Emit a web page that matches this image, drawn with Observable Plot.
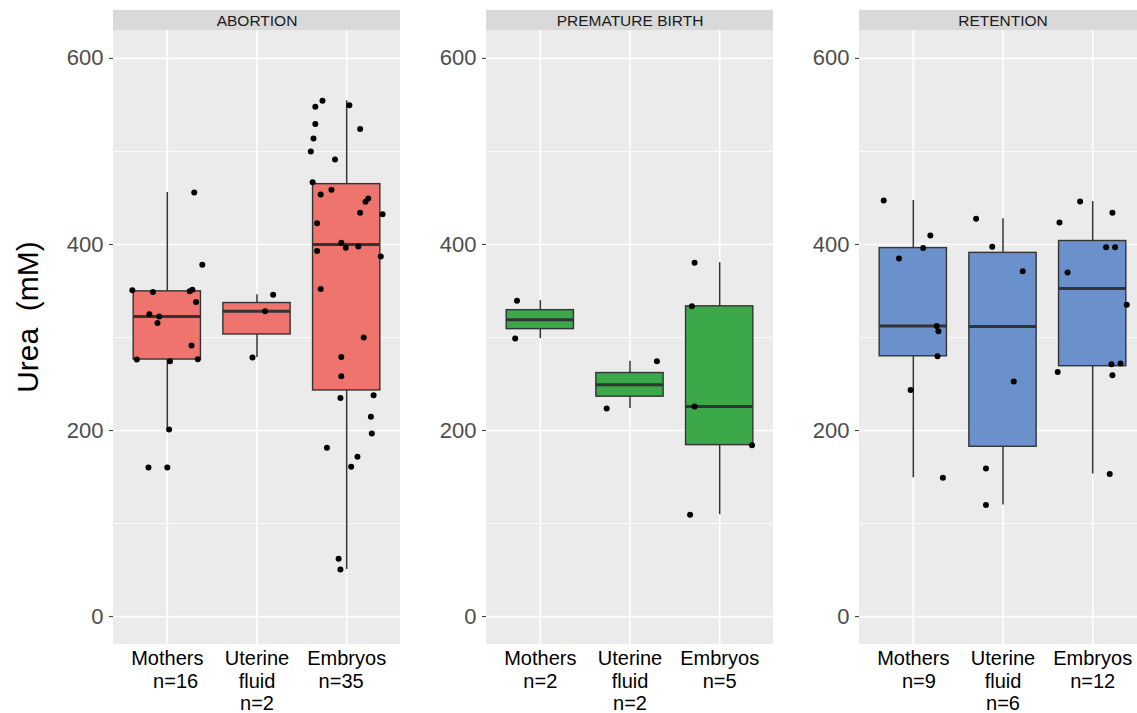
<!DOCTYPE html>
<html>
<head>
<meta charset="utf-8">
<script src="https://cdn.jsdelivr.net/npm/d3@7"></script>
<script src="https://cdn.jsdelivr.net/npm/@observablehq/plot@0.6"></script>
<style>
  html, body { margin: 0; padding: 0; background: #ffffff; }
  #wrap { position: relative; width: 1137px; height: 713px; overflow: hidden; }
  #wrap svg { max-width: none !important; font-family: "Liberation Sans", Arial, sans-serif; }
  #ytitle {
    position: absolute; left: 28px; top: 317px;
    transform: translate(-50%, -50%) rotate(-90deg);
    font-family: "Liberation Sans", Arial, sans-serif; font-size: 30px; color: #000;
    white-space: nowrap; line-height: 1;
  }
</style>
</head>
<body>
<div id="wrap"><div id="ytitle"></div></div>
<script>
// ---- categories and labels ----
const panels = ["ABORTION", "PREMATURE BIRTH", "RETENTION"];
const panelFills = ["#F0746E", "#3BA84A", "#6B91CD"];
const abortionLabels  = ["Mothers\n\u00a0\u00a0\u00a0n=16", "Uterine\nfluid\nn=2", "Embryos\nn=35\u00a0\u00a0"];
const prematureLabels = ["Mothers\nn=2", "Uterine\nfluid\nn=2", "Embryos\nn=5"];
const retentionLabels = ["Mothers\n\u00a0\u00a0n=9", "Uterine\nfluid\nn=6", "Embryos\nn=12"];
const yTicks = [0, 200, 400, 600];
const yMinor = [100, 300, 500];
const yTitle = "Urea\u00a0\u00a0(mM)";

// ---- values (mM); jitter in category units ----
const abortionMothers = [455.8, 378.2, 350.7, 348.9, 349.6, 351.4, 338.1, 324.9, 322.5, 315.6, 291.3, 276.3, 274.5, 276.6, 201.1, 160.3, 160.3];
const abortionMothersJitter = [0.30, 0.39, -0.39, -0.16, 0.25, 0.28, 0.32, -0.20, -0.09, -0.11, 0.27, -0.34, 0.03, 0.34, 0.02, -0.21, 0.00];
const abortionUterine = [346.0, 328.1, 278.4];
const abortionUterineJitter = [0.18, 0.09, -0.05];
const abortionEmbryos = [554.5, 548.1, 549.6, 529.6, 513.8, 524.2, 499.9, 491.3, 466.9, 453.7, 458.7, 449.4, 445.9, 434.0, 432.6, 422.9, 401.8, 392.9, 396.5, 397.9, 387.2, 352.1, 299.9, 279.1, 258.4, 235.1, 238.0, 214.7, 196.8, 181.4, 171.7, 161.0, 62.3, 50.5];
const abortionEmbryosJitter = [-0.27, -0.35, 0.03, -0.35, -0.37, 0.15, -0.40, -0.13, -0.38, -0.29, -0.17, 0.24, 0.21, 0.15, 0.40, -0.33, -0.06, -0.33, -0.01, 0.13, 0.38, -0.29, 0.19, -0.06, -0.06, -0.07, 0.30, 0.27, 0.28, -0.22, 0.12, 0.05, -0.09, -0.07];

const prematureMothers = [339.6, 298.8];
const prematureMothersJitter = [-0.26, -0.28];
const prematureUterine = [274.5, 223.7];
const prematureUterineJitter = [0.30, -0.26];
const prematureEmbryos = [380.4, 333.5, 225.8, 184.3, 109.5];
const prematureEmbryosJitter = [-0.28, -0.31, -0.28, 0.36, -0.33];

const retentionMothers = [447.3, 409.7, 396.1, 385.0, 312.3, 306.7, 279.8, 243.7, 149.2];
const retentionMothersJitter = [-0.33, 0.19, 0.11, -0.16, 0.26, 0.28, 0.27, -0.03, 0.33];
const retentionUterine = [427.6, 397.6, 371.1, 252.6, 159.2, 119.9];
const retentionUterineJitter = [-0.30, -0.12, 0.22, 0.12, -0.19, -0.19];
const retentionEmbryos = [446.2, 434.0, 423.6, 397.1, 397.1, 370.0, 335.3, 271.2, 272.0, 263.0, 259.4, 153.2];
const retentionEmbryosJitter = [-0.14, 0.22, -0.37, 0.15, 0.25, -0.28, 0.38, 0.21, 0.31, -0.39, 0.22, 0.19];

// ---- build tables ----
const series = [
  [abortionMothers, abortionMothersJitter, abortionUterine, abortionUterineJitter, abortionEmbryos, abortionEmbryosJitter],
  [prematureMothers, prematureMothersJitter, prematureUterine, prematureUterineJitter, prematureEmbryos, prematureEmbryosJitter],
  [retentionMothers, retentionMothersJitter, retentionUterine, retentionUterineJitter, retentionEmbryos, retentionEmbryosJitter]
];
const labelSets = [abortionLabels, prematureLabels, retentionLabels];

const points = [];
const stats = [];
const labels = [];
panels.forEach((panel, pi) => {
  for (let gi = 0; gi < 3; gi++) {
    const vals = series[pi][gi * 2];
    const jit = series[pi][gi * 2 + 1];
    vals.forEach((v, k) => points.push({panel, gi, value: v, jitter: jit[k]}));
    const s = vals.slice().sort(d3.ascending);
    const q1 = d3.quantileSorted(s, 0.25), med = d3.quantileSorted(s, 0.5), q3 = d3.quantileSorted(s, 0.75);
    const iqr = q3 - q1;
    const lo = d3.min(s.filter(v => v >= q1 - 1.5 * iqr));
    const hi = d3.max(s.filter(v => v <= q3 + 1.5 * iqr));
    stats.push({panel, gi, q1, med, q3, lo, hi, fill: panelFills[pi]});
    labels.push({panel, gi, text: labelSets[pi][gi]});
  }
});

// scale limits (ggplot-style 5% expansion around 0..600, plus strip band on top)
const yLo = -30, yHi = 630, yStripTop = 651.5;
const xLo = -0.6, xHi = 2.6;
const halfBox = 0.375;

const chart = Plot.plot({
  width: 1146,
  height: 713,
  marginLeft: 112,
  marginRight: 0,
  marginTop: 10,
  marginBottom: 69,
  style: {fontFamily: "'Liberation Sans', Arial, sans-serif", background: "transparent", maxWidth: "none"},
  fx: {domain: panels, paddingInner: 86 / 373, paddingOuter: 0, axis: null, label: null},
  x: {domain: [xLo, xHi], axis: null},
  y: {domain: [yLo, yStripTop], axis: null},
  marks: [
    // panel background
    Plot.rect([0], {x1: xLo, x2: xHi, y1: yLo, y2: yHi, fill: "#EBEBEB"}),
    // strip
    Plot.rect([0], {x1: xLo, x2: xHi, y1: yHi, y2: yStripTop, fill: "#D9D9D9"}),
    Plot.text(panels, {fx: d => d, text: d => d, frameAnchor: "top", dy: 10.5, lineAnchor: "middle", fontSize: 15.5, fill: "#1A1A1A"}),
    // grid
    Plot.ruleY(yMinor, {x1: xLo, x2: xHi, y: d => d, stroke: "#FFFFFF", strokeWidth: 0.8}),
    Plot.ruleY(yTicks, {x1: xLo, x2: xHi, y: d => d, stroke: "#FFFFFF", strokeWidth: 1.6}),
    Plot.ruleX([0, 1, 2], {x: d => d, y1: yLo, y2: yHi, stroke: "#FFFFFF", strokeWidth: 1.6}),
    // y axes on every panel
    Plot.axisY(yTicks, {facetAnchor: null, tickSize: 4, tickPadding: 6, fontSize: 22, color: "#4D4D4D", stroke: "#333333", label: null}),
    // whiskers
    Plot.ruleX(stats, {fx: "panel", x: "gi", y1: "lo", y2: "hi", stroke: "#333333", strokeWidth: 1.5}),
    // boxes
    Plot.rect(stats, {fx: "panel", x1: d => d.gi - halfBox, x2: d => d.gi + halfBox, y1: "q1", y2: "q3", fill: "fill", stroke: "#333333", strokeWidth: 1.4}),
    // medians
    Plot.ruleY(stats, {fx: "panel", x1: d => d.gi - halfBox, x2: d => d.gi + halfBox, y: "med", stroke: "#333333", strokeWidth: 3}),
    // jittered points
    Plot.dot(points, {fx: "panel", x: d => d.gi + d.jitter, y: "value", r: 3, fill: "#000000", stroke: null}),
    // category labels
    Plot.text(labels, {fx: "panel", x: "gi", text: "text", frameAnchor: "bottom", lineAnchor: "top", dy: 5, lineHeight: 1.12, fontSize: 20, fill: "#000000"})
  ]
});

document.getElementById("wrap").appendChild(chart);
document.getElementById("ytitle").textContent = yTitle;
</script>
</body>
</html>
